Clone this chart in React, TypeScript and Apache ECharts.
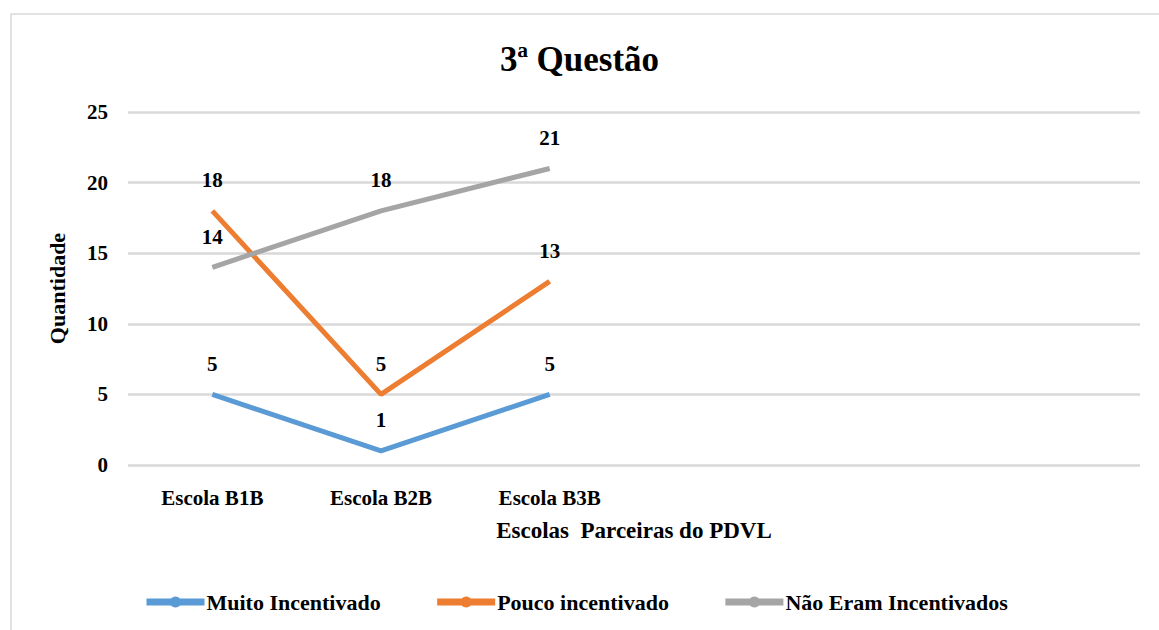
import React, { useEffect, useRef } from "react";
import * as echarts from "echarts";

const categories = ["Escola B1B", "Escola B2B", "Escola B3B", "", "", ""];
const seriesNames = ["Muito Incentivado", "Pouco incentivado", "Não Eram Incentivados"];
const muitoIncentivado = [5, 1, 5];
const poucoIncentivado = [18, 5, 13];
const naoEramIncentivados = [14, 18, 21];
const yTicks = { min: 0, max: 25, interval: 5 };

const FONT = "Liberation Serif";

export default function App() {
  const ref = useRef<HTMLDivElement>(null);
  useEffect(() => {
    document.body.style.margin = "0";
    const chart = echarts.init(ref.current!, undefined, { renderer: "svg" });
    const label = {
      show: true,
      position: "top",
      distance: 20,
      fontFamily: FONT,
      fontWeight: "bold",
      fontSize: 21,
      color: "#000",
    };
    const mk = (name: string, data: number[], color: string) => ({
      name,
      type: "line",
      data,
      symbol: "circle",
      symbolSize: 0,
      showSymbol: true,
      lineStyle: { width: 5, color },
      itemStyle: { color },
      label,
    });
    chart.setOption({
      animation: false,
      backgroundColor: "#fff",
      textStyle: { fontFamily: FONT },
      graphic: [
        {
          type: "rect",
          shape: { x: 11, y: 14, width: 1170, height: 640 },
          style: { fill: "none", stroke: "#d9d9d9", lineWidth: 1.5 },
        },
      ],
      title: {
        text: "3ª Questão",
        left: "center",
        top: 37,
        textStyle: { fontFamily: FONT, fontWeight: "bold", fontSize: 35, color: "#000" },
      },
      grid: { left: 128, right: 19, top: 112, bottom: 165 },
      legend: {
        bottom: 17,
        left: 143,
        padding: 0,
        itemWidth: 58,
        itemHeight: 14,
        itemGap: 53,
        lineStyle: { width: 7 },
        data: seriesNames,
        textStyle: { fontFamily: FONT, fontWeight: "bold", fontSize: 22, color: "#000", padding: [0, 0, 0, -3] },
      },
      xAxis: {
        type: "category",
        data: categories,
        boundaryGap: true,
        axisLine: { show: false },
        axisTick: { show: false },
        axisLabel: {
          fontFamily: FONT,
          fontWeight: "bold",
          fontSize: 21,
          color: "#000",
          margin: 22,
        },
        name: "Escolas  Parceiras do PDVL",
        nameLocation: "middle",
        nameGap: 54,
        nameTextStyle: { fontFamily: FONT, fontWeight: "bold", fontSize: 23, color: "#000" },
      },
      yAxis: {
        type: "value",
        min: yTicks.min,
        max: yTicks.max,
        interval: yTicks.interval,
        axisLine: { show: false },
        axisTick: { show: false },
        splitLine: { lineStyle: { color: "#d9d9d9", width: 2.5 } },
        axisLabel: {
          fontFamily: FONT,
          fontWeight: "bold",
          fontSize: 21,
          color: "#000",
          margin: 20,
        },
        name: "Quantidade",
        nameLocation: "middle",
        nameGap: 60,
        nameRotate: 90,
        nameTextStyle: { fontFamily: FONT, fontWeight: "bold", fontSize: 22, color: "#000" },
      },
      series: [
        mk(seriesNames[0], muitoIncentivado, "#5b9bd5"),
        mk(seriesNames[1], poucoIncentivado, "#ed7d31"),
        mk(seriesNames[2], naoEramIncentivados, "#a5a5a5"),
      ],
    });
    return () => chart.dispose();
  }, []);
  return <div ref={ref} style={{ width: 1159, height: 630, position: "absolute", left: 0, top: 0 }} />;
}
